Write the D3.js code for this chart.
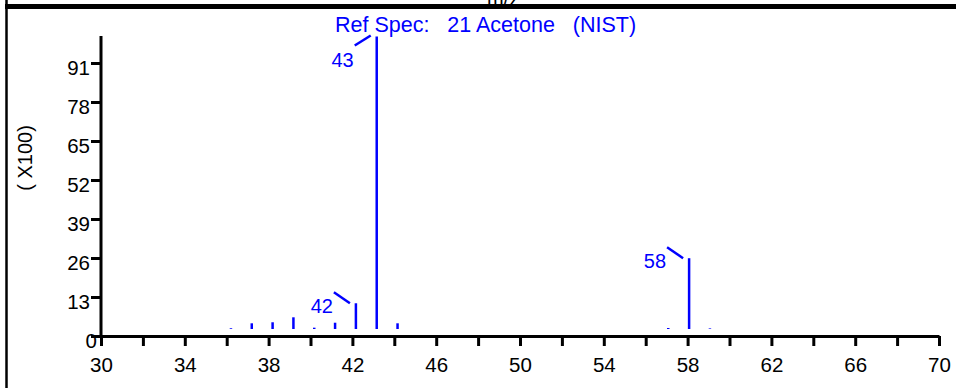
<!DOCTYPE html>
<html>
<head>
<meta charset="utf-8">
<script src="https://cdn.jsdelivr.net/npm/d3@7"></script>
<style>
  html, body { margin: 0; padding: 0; background: #fff; }
  svg { display: block; font-family: "Liberation Sans", Arial, Helvetica, sans-serif; }
  text { white-space: pre; }
</style>
</head>
<body>
<svg id="chart" width="956" height="388"></svg>
<script>
// Reference spectrum: acetone (NIST), m/z vs. relative abundance (x100)
const mz        = [36,   37,   38,   39,  40,   41,   42,  43,  44,   57,   58,   59];
const abundance = [0.25, 1.95, 2.3,  4.0, 0.45, 2.15, 8.8, 100, 1.95, 0.35, 24.2, 0.2];
const labelledPeaks = [42, 43, 58];

const xTicks  = d3.range(30, 71, 2);
const xLabels = [30, 34, 38, 42, 46, 50, 54, 58, 62, 66, 70];
const yTicks  = [0, 13, 26, 39, 52, 65, 78, 91];

const title  = "Ref Spec:   21 Acetone   (NIST)";
const yTitle = "( X100)";
const xTitle = "m/z";

const BLUE = "#0000ff";
const svg = d3.select("#chart");

// plot frame
const X0 = 101, X1 = 939, YB = 336, YT = 36;

const x = d3.scaleLinear().domain([30, 70]).range([X0, X1]);
const y = d3.scaleLinear().domain([0, 100]).range([YB, YT]);
// stems are drawn inset from the axes
const xs = d3.scaleLinear().domain([30, 70]).range([X0 + 5, X1]);
const ys = d3.scaleLinear().domain([0, 100]).range([YB - 7, YT + 0.5]);

// axis title of the panel above, partly hidden by the separator
svg.append("text")
  .attr("x", 503).attr("y", 6)
  .attr("text-anchor", "middle")
  .attr("font-size", 20)
  .attr("fill", "#000")
  .text(xTitle);

// panel frame: thick top rule and left border
svg.append("line")
  .attr("x1", 5).attr("x2", 956).attr("y1", 6.5).attr("y2", 6.5)
  .attr("stroke", "#000").attr("stroke-width", 5);
svg.append("line")
  .attr("x1", 6.5).attr("x2", 6.5).attr("y1", 0).attr("y2", 388)
  .attr("stroke", "#000").attr("stroke-width", 2.5);

// x axis
const xAxis = d3.axisBottom(x)
  .tickValues(xTicks)
  .tickSize(10)
  .tickSizeOuter(0)
  .tickPadding(11)
  .tickFormat(d => xLabels.includes(d) ? String(d) : "");
const gx = svg.append("g").attr("transform", `translate(0,${YB})`).call(xAxis);

// y axis
const yAxis = d3.axisLeft(y)
  .tickValues(yTicks)
  .tickSize(10)
  .tickSizeOuter(0)
  .tickPadding(1)
  .tickFormat(d3.format("d"));
const gy = svg.append("g").attr("transform", `translate(${X0},0)`).call(yAxis);
gy.select(".domain").attr("d", `M0,${YB}V${YT}`);

[gx, gy].forEach(g => {
  g.select(".domain").attr("stroke", "#000").attr("stroke-width", 3);
  g.selectAll(".tick line").attr("stroke", "#000").attr("stroke-width", 3);
  g.selectAll(".tick text")
    .attr("fill", "#000")
    .attr("font-size", 20.5)
    .attr("font-family", "Liberation Sans, Arial, sans-serif");
});
gy.selectAll(".tick text")
  .attr("dy", "11px")
  .attr("x", d => d === 0 ? -4 : -11);

// y axis title
svg.append("text")
  .attr("transform", "translate(32,158) rotate(-90)")
  .attr("text-anchor", "middle")
  .attr("font-size", 20)
  .attr("fill", "#000")
  .text(yTitle);

// spectrum title
svg.append("text")
  .attr("x", 335).attr("y", 31.5)
  .attr("font-size", 21.5)
  .attr("fill", BLUE)
  .text(title);

// stems
const peaks = mz.map((m, i) => ({ m, v: abundance[i] }));
svg.append("g").selectAll("line")
  .data(peaks)
  .join("line")
  .attr("x1", d => xs(d.m)).attr("x2", d => xs(d.m))
  .attr("y1", ys(0))
  .attr("y2", d => ys(d.v))
  .attr("stroke", BLUE)
  .attr("stroke-width", 2.5);

// peak labels with leader lines
const lab = svg.append("g");
peaks.filter(d => labelledPeaks.includes(d.m)).forEach(d => {
  const px = xs(d.m), py = ys(d.v);
  const flip = d.v > 90; // near the top: put the label below the leader
  const sy = flip ? py + 9 : py - 11;
  const ey = flip ? py - 1 : py;
  lab.append("line")
    .attr("x1", px - 22).attr("y1", sy)
    .attr("x2", px - 6).attr("y2", ey)
    .attr("stroke", BLUE).attr("stroke-width", 2.5);
  lab.append("text")
    .attr("x", px - 23)
    .attr("y", flip ? py + 30 : py + 10)
    .attr("text-anchor", "end")
    .attr("font-size", 20)
    .attr("fill", BLUE)
    .text(String(d.m));
});
</script>
</body>
</html>
